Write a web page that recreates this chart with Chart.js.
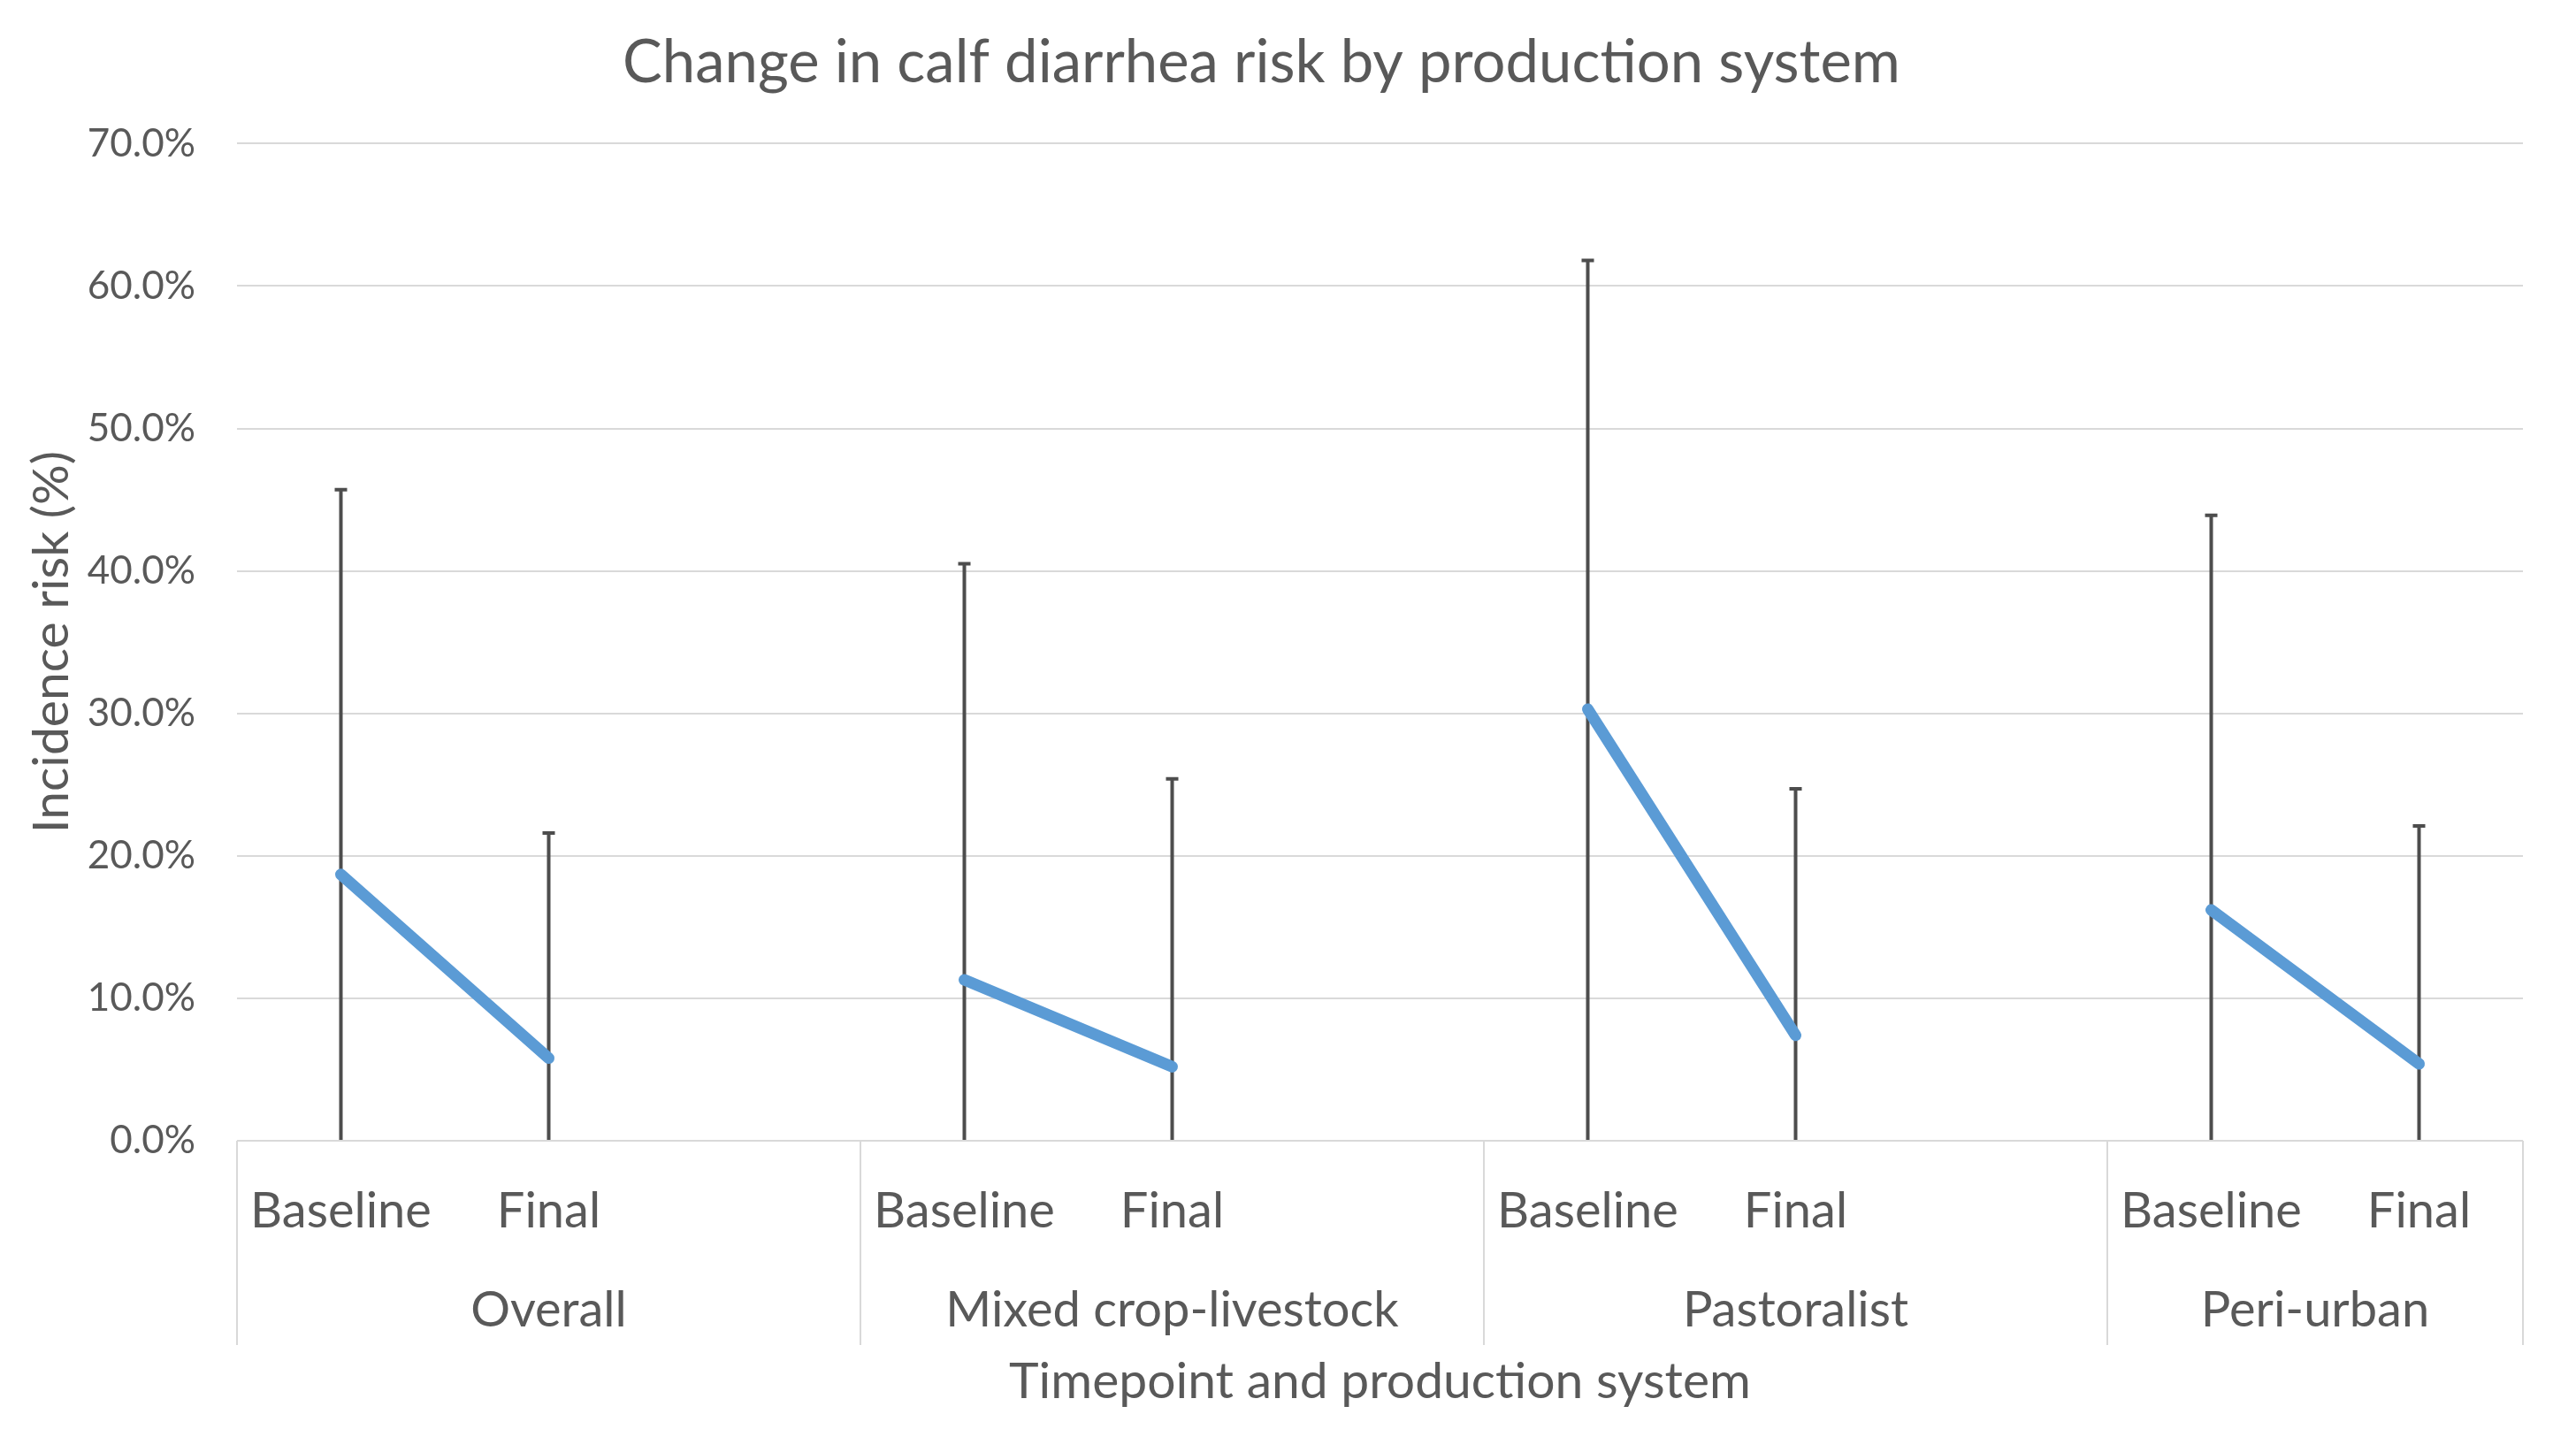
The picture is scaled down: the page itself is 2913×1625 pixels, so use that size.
<!DOCTYPE html>
<html>
<head>
<meta charset="utf-8">
<script src="https://cdn.jsdelivr.net/npm/chart.js@4"></script>
<style>
  html, body { margin: 0; padding: 0; background: #fff; }
</style>
</head>
<body>
<canvas id="riskChart" width="2913" height="1625"></canvas>
<script>
// Categories: timepoint within production system (blank slot separates groups)
const timepoints = ['Baseline', 'Final', '', 'Baseline', 'Final', '', 'Baseline', 'Final', '', 'Baseline', 'Final'];
const systems = ['Overall', 'Overall', 'Overall',
  'Mixed crop-livestock', 'Mixed crop-livestock', 'Mixed crop-livestock',
  'Pastoralist', 'Pastoralist', 'Pastoralist',
  'Peri-urban', 'Peri-urban'];

// Incidence risk (%) and error bar ends
const risk    = [18.7, 5.8, null, 11.3, 5.2, null, 30.3, 7.4, null, 16.2, 5.4];
const upperCI = [45.7, 21.6, null, 40.5, 25.4, null, 61.8, 24.7, null, 43.9, 22.1];
const lowerCI = [0, 0, null, 0, 0, null, 0, 0, null, 0, 0];

const yMin = 0, yMax = 70, yStep = 10;

const textColor = '#595959';
const lineGrey = '#d9d9d9';
Chart.defaults.font.family = 'Lato';
Chart.defaults.color = textColor;

// vertical error bars, drawn under the line
const errorBars = {
  id: 'errorBars',
  beforeDatasetsDraw(chart) {
    const { ctx, scales: { x, y } } = chart;
    ctx.save();
    ctx.strokeStyle = '#4d4d4d';
    ctx.lineWidth = 4;
    upperCI.forEach((hi, i) => {
      if (hi == null) return;
      const px = x.getPixelForValue(i);
      const top = y.getPixelForValue(hi);
      const bot = y.getPixelForValue(lowerCI[i]);
      ctx.beginPath();
      ctx.moveTo(px, bot);
      ctx.lineTo(px, top);
      ctx.moveTo(px - 7, top);
      ctx.lineTo(px + 7, top);
      ctx.stroke();
    });
    ctx.restore();
  }
};

// two-level category axis + axis titles
const groupAxis = {
  id: 'groupAxis',
  afterDraw(chart) {
    const { ctx, chartArea, scales: { x } } = chart;
    const y0 = chartArea.bottom;
    const boxBottom = 1521;
    ctx.save();
    ctx.strokeStyle = lineGrey;
    ctx.lineWidth = 2;
    ctx.beginPath();
    ctx.moveTo(chartArea.left, y0);
    ctx.lineTo(chartArea.right, y0);
    ctx.stroke();

    // groups from the systems array
    const groups = [];
    systems.forEach((s, i) => {
      const g = groups[groups.length - 1];
      if (g && g.name === s) g.end = i;
      else groups.push({ name: s, start: i, end: i });
    });

    ctx.beginPath();
    groups.forEach(g => {
      const gx = x.getPixelForValue(g.start - 0.5);
      ctx.moveTo(gx, y0);
      ctx.lineTo(gx, boxBottom);
    });
    const lastX = x.getPixelForValue(systems.length - 0.5);
    ctx.moveTo(lastX, y0);
    ctx.lineTo(lastX, boxBottom);
    ctx.stroke();

    ctx.fillStyle = textColor;
    ctx.textAlign = 'center';
    ctx.textBaseline = 'middle';
    ctx.font = '56px Lato';
    timepoints.forEach((t, i) => {
      if (t) ctx.fillText(t, x.getPixelForValue(i), 1370);
    });
    groups.forEach(g => {
      const cx = (x.getPixelForValue(g.start - 0.5) + x.getPixelForValue(g.end + 0.5)) / 2;
      ctx.fillText(g.name, cx, 1482);
    });

    ctx.font = '57px Lato';
    ctx.fillText('Timepoint and production system', (chartArea.left + chartArea.right) / 2, 1563);

    ctx.translate(59, (chartArea.top + chartArea.bottom) / 2);
    ctx.rotate(-Math.PI / 2);
    ctx.fillText('Incidence risk (%)', 0, 0);
    ctx.restore();
  }
};

function draw() {
  new Chart(document.getElementById('riskChart'), {
    type: 'line',
    data: {
      labels: timepoints,
      datasets: [{
        label: 'Incidence risk',
        data: risk,
        borderColor: '#5b9bd5',
        borderWidth: 13,
        borderCapStyle: 'round',
        pointRadius: 0,
        spanGaps: false,
        tension: 0
      }]
    },
    options: {
      responsive: false,
      devicePixelRatio: 1,
      animation: false,
      layout: { padding: { left: 0, right: 60, top: 0, bottom: 0 } },
      plugins: {
        legend: { display: false },
        tooltip: { enabled: false },
        title: {
          display: true,
          text: 'Change in calf diarrhea risk by production system',
          color: textColor,
          font: { size: 67, weight: 'normal' },
          padding: { top: 31, bottom: 51 }
        }
      },
      scales: {
        x: {
          offset: true,
          grid: { display: false },
          border: { display: false },
          ticks: { display: false },
          afterFit(scale) { scale.height = 1625 - 1290; }
        },
        y: {
          min: yMin,
          max: yMax,
          border: { display: false },
          grid: { color: lineGrey, lineWidth: 2, drawTicks: false },
          ticks: {
            stepSize: yStep,
            padding: 47,
            color: textColor,
            font: { size: 44 },
            callback: v => v.toFixed(1) + '%'
          },
          afterFit(scale) { scale.width = 268; }
        }
      }
    },
    plugins: [errorBars, groupAxis]
  });
}

document.fonts.load('56px Lato').then(draw, draw);
</script>
</body>
</html>
